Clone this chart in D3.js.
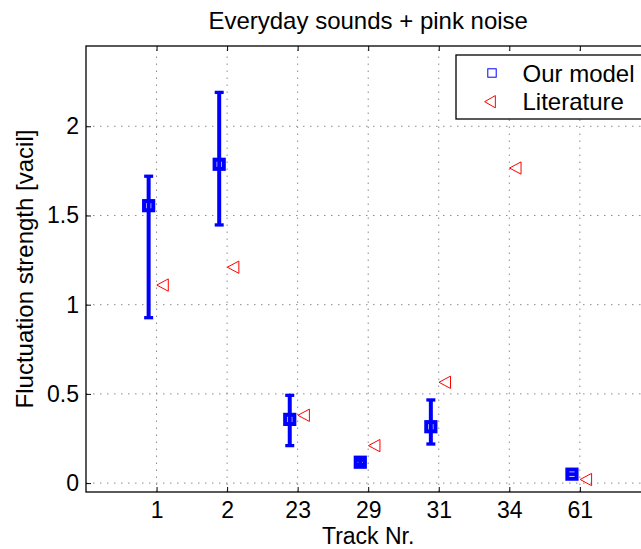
<!DOCTYPE html>
<html>
<head>
<meta charset="utf-8">
<script src="https://cdn.jsdelivr.net/npm/d3@7"></script>
<style>
  body { margin: 0; background: #fff; }
  svg { display: block; font-family: 'Liberation Sans', Arial, Helvetica, sans-serif; }
</style>
</head>
<body>
<div id="app"></div>
<script>
// track numbers on the x axis
const tracks = ['1', '2', '23', '29', '31', '34', '61']

// our model: mean and error bar ends (null = no value)
const model_values = [1.555, 1.787, 0.357, 0.117, 0.316, null, 0.05]
const model_lower = [0.927, 1.447, 0.21, 0.105, 0.219, null, 0.05]
const model_upper = [1.72, 2.19, 0.492, 0.128, 0.466, null, 0.05]

// literature values
const literature_values = [1.11, 1.21, 0.38, 0.21, 0.565, 1.766, 0.02]

// y tick values
const y_ticks = [0, 0.5, 1, 1.5, 2]

function main() {
  const width = 641
  const height = 549
  const margin = { left: 86, top: 46, bottom: 57 }
  const font_size = 24
  const tick_font_size = 23

  const app = d3.select('#app')

  const svg = d3
    .create('svg')
    .attr('width', width)
    .attr('height', height)
    .attr('viewBox', [0, 0, width, height])

  // x is the track index (1..7), plot runs to 8 and is cut by the page edge
  const x_scale = d3
    .scaleLinear()
    .domain([0, 8])
    .range([margin.left, margin.left + 8 * 70.55])

  const y_scale = d3
    .scaleLinear()
    .domain([-0.05, 2.45])
    .range([height - margin.bottom, margin.top])

  const x_ticks = tracks.map((d, i) => i + 1)
  const plot_left = x_scale.range()[0]
  const plot_right = x_scale.range()[1]
  const plot_top = y_scale.range()[1]
  const plot_bottom = y_scale.range()[0]

  // dotted grid
  const grid = svg.append('g')
    .attr('stroke', '#8c8c8c')
    .attr('stroke-width', 1)
    .attr('stroke-dasharray', '1.5,5.5')

  grid.selectAll('.gx')
    .data(x_ticks)
    .join('line')
    .attr('x1', (d) => x_scale(d))
    .attr('x2', (d) => x_scale(d))
    .attr('y1', plot_bottom)
    .attr('y2', plot_top)

  grid.selectAll('.gy')
    .data(y_ticks)
    .join('line')
    .attr('x1', plot_left)
    .attr('x2', plot_right)
    .attr('y1', (d) => y_scale(d))
    .attr('y2', (d) => y_scale(d))

  // axes with inward ticks
  const x_axis = svg.append('g')
    .attr('transform', `translate(0,${plot_bottom})`)
    .call(
      d3.axisBottom(x_scale)
        .tickValues(x_ticks)
        .tickFormat((d) => tracks[d - 1])
        .tickSizeInner(-5)
        .tickSizeOuter(0)
        .tickPadding(10)
    )

  const x_axis_top = svg.append('g')
    .attr('transform', `translate(0,${plot_top})`)
    .call(
      d3.axisTop(x_scale)
        .tickValues(x_ticks)
        .tickFormat('')
        .tickSizeInner(-5)
        .tickSizeOuter(0)
    )

  const y_axis = svg.append('g')
    .attr('transform', `translate(${plot_left},0)`)
    .call(
      d3.axisLeft(y_scale)
        .tickValues(y_ticks)
        .tickFormat(d3.format('~g'))
        .tickSizeInner(-5)
        .tickSizeOuter(0)
        .tickPadding(7)
    )

  ;[x_axis, x_axis_top, y_axis].forEach((a) => {
    a.select('.domain').remove()
    a.selectAll('line').attr('stroke', '#000')
    a.selectAll('text')
      .attr('fill', '#000')
      .style('font-size', tick_font_size + 'px')
      .style('font-family', null)
  })

  // box around the plot
  svg.append('rect')
    .attr('x', plot_left)
    .attr('y', plot_top)
    .attr('width', plot_right - plot_left)
    .attr('height', plot_bottom - plot_top)
    .attr('fill', 'none')
    .attr('stroke', '#000')
    .attr('stroke-width', 1.3)

  // model points with error bars
  const model_data = tracks
    .map((t, i) => ({
      x: i + 1,
      value: model_values[i],
      lower: model_lower[i],
      upper: model_upper[i],
    }))
    .filter((d) => d.value !== null)

  const model_offset = -0.112
  const model_g = svg.append('g')
    .selectAll('g')
    .data(model_data)
    .join('g')
    .attr('stroke', '#0000ff')
    .attr('fill', 'none')

  model_g.append('line')
    .attr('x1', (d) => x_scale(d.x + model_offset))
    .attr('x2', (d) => x_scale(d.x + model_offset))
    .attr('y1', (d) => y_scale(d.lower))
    .attr('y2', (d) => y_scale(d.upper))
    .attr('stroke-width', 4)

  model_g.selectAll('.cap')
    .data((d) => [d.lower, d.upper].map((v) => ({ x: d.x, v: v })))
    .join('line')
    .attr('x1', (d) => x_scale(d.x + model_offset) - 4.5)
    .attr('x2', (d) => x_scale(d.x + model_offset) + 4.5)
    .attr('y1', (d) => y_scale(d.v))
    .attr('y2', (d) => y_scale(d.v))
    .attr('stroke-width', 3.3)

  model_g.append('rect')
    .attr('x', (d) => x_scale(d.x + model_offset) - 4.6)
    .attr('y', (d) => y_scale(d.value) - 4.6)
    .attr('width', 9.2)
    .attr('height', 9.2)
    .attr('stroke-width', 4)

  // literature points as left pointing triangles
  const tri_path = (cx, cy, w, h) =>
    `M${cx - w / 2},${cy}L${cx + w / 2},${cy - h / 2}L${cx + w / 2},${cy + h / 2}Z`

  const lit_offset = 0.085
  svg.append('g')
    .selectAll('path')
    .data(literature_values)
    .join('path')
    .attr('d', (d, i) => tri_path(x_scale(i + 1 + lit_offset), y_scale(d), 11.5, 12.3))
    .attr('fill', 'none')
    .attr('stroke', '#ff0000')
    .attr('stroke-width', 1)

  // legend
  const legend = svg.append('g')
  legend.append('rect')
    .attr('x', 456)
    .attr('y', 55)
    .attr('width', 190)
    .attr('height', 64)
    .attr('fill', '#fff')
    .attr('stroke', '#000')
    .attr('stroke-width', 1.3)

  legend.append('rect')
    .attr('x', 492 - 4.2)
    .attr('y', 73 - 4.2)
    .attr('width', 8.4)
    .attr('height', 8.4)
    .attr('fill', 'none')
    .attr('stroke', '#0000ff')
    .attr('stroke-width', 1)

  legend.append('path')
    .attr('d', tri_path(490, 101.7, 10.7, 12.3))
    .attr('fill', 'none')
    .attr('stroke', '#ff0000')
    .attr('stroke-width', 1)

  legend.selectAll('text')
    .data(['Our model', 'Literature'])
    .join('text')
    .attr('x', 522.5)
    .attr('y', (d, i) => 81.5 + i * 28.7)
    .style('font-size', font_size + 'px')
    .text((d) => d)

  // title and axis labels
  svg.append('text')
    .attr('x', (plot_left + plot_right) / 2)
    .attr('y', 28.5)
    .attr('text-anchor', 'middle')
    .style('font-size', font_size + 'px')
    .text('Everyday sounds + pink noise')

  svg.append('text')
    .attr('x', (plot_left + plot_right) / 2)
    .attr('y', 544)
    .attr('text-anchor', 'middle')
    .style('font-size', tick_font_size + 'px')
    .text('Track Nr.')

  svg.append('text')
    .attr('transform', `translate(33,${(plot_top + plot_bottom) / 2}) rotate(-90)`)
    .attr('text-anchor', 'middle')
    .style('font-size', font_size + 'px')
    .text('Fluctuation strength [vacil]')

  app.append(() => svg.node())
}

main();
</script>
</body>
</html>
